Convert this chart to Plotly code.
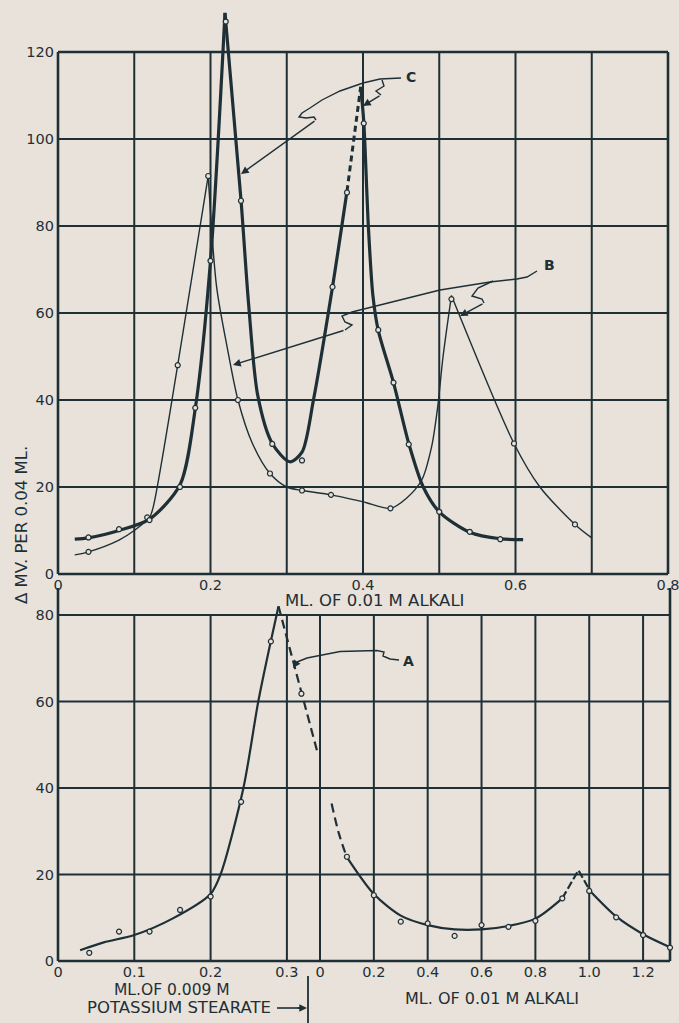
import plotly.graph_objects as go

W, H = 679, 1023
BG = "#e8e2da"
INK = "#1f2f36"
FONT = "DejaVu Sans"

# ---------------- data: upper panel (ML. OF 0.01 M ALKALI) ----------------
# curve C (heavy line): measured points
c_pts_x = [0.04, 0.08, 0.12, 0.16, 0.18, 0.20, 0.22, 0.24, 0.281, 0.32, 0.36, 0.379, 0.401, 0.42, 0.44, 0.46, 0.50, 0.54, 0.58]
c_pts_y = [8.4, 10.3, 12.4, 20.0, 38.2, 72.0, 127.0, 85.8, 29.9, 26.1, 66.0, 87.7, 103.6, 56.1, 44.0, 29.8, 14.3, 9.7, 8.0]
# curve C drawn line
c_rise_x = [0.022, 0.04, 0.08, 0.12, 0.16, 0.18, 0.20, 0.219]
c_rise_y = [8.0, 8.3, 10.0, 12.6, 20.5, 38.0, 72.0, 129.0]
c_valley_x = [0.219, 0.24, 0.25, 0.262, 0.281, 0.304, 0.32, 0.335, 0.36, 0.379]
c_valley_y = [129.0, 86.0, 62.0, 41.0, 30.0, 25.8, 28.0, 40.0, 66.0, 88.0]
c_dash_x = [0.379, 0.397]
c_dash_y = [88.0, 112.0]
c_fall_x = [0.397, 0.401, 0.407, 0.413, 0.42, 0.44, 0.46, 0.479, 0.50, 0.54, 0.58, 0.61]
c_fall_y = [112.0, 104.0, 80.0, 64.0, 56.0, 44.0, 30.0, 20.0, 14.3, 9.6, 8.1, 7.9]

# curve B (light line): measured points
b_pts_x = [0.04, 0.117, 0.157, 0.197, 0.236, 0.278, 0.32, 0.358, 0.436, 0.516, 0.598, 0.678]
b_pts_y = [5.1, 13.0, 48.0, 91.5, 40.0, 23.1, 19.2, 18.2, 15.1, 63.2, 30.0, 11.4]
b_rise_x = [0.022, 0.04, 0.08, 0.10, 0.12, 0.125, 0.157, 0.197]
b_rise_y = [4.4, 5.1, 7.8, 10.0, 13.0, 15.5, 48.0, 91.5]
b_mid_x = [0.197, 0.208, 0.222, 0.236, 0.255, 0.278, 0.30, 0.32, 0.358, 0.40, 0.436, 0.457, 0.477, 0.49, 0.498, 0.505, 0.516]
b_mid_y = [91.5, 66.0, 52.0, 40.0, 30.0, 23.1, 20.0, 19.2, 18.2, 16.6, 15.1, 17.4, 21.6, 29.3, 38.5, 50.0, 64.0]
b_fall_x = [0.516, 0.598, 0.632, 0.678, 0.70]
b_fall_y = [64.0, 30.0, 20.0, 11.4, 8.3]

# ---------------- data: lower panel, curve A ----------------
# ML. OF 0.009 M POTASSIUM STEARATE
a_st_pts_x = [0.041, 0.08, 0.12, 0.16, 0.20, 0.24, 0.279, 0.319]
a_st_pts_y = [1.9, 6.8, 6.8, 11.8, 14.9, 36.8, 73.9, 61.8]
a_st_line_x = [0.029, 0.06, 0.10, 0.15, 0.20, 0.213, 0.243, 0.2625, 0.279, 0.289]
a_st_line_y = [2.5, 4.3, 6.0, 9.8, 15.5, 20.0, 40.0, 60.0, 74.0, 82.0]
a_st_dash_x = [0.289, 0.319, 0.341]
a_st_dash_y = [82.0, 61.8, 47.6]
# ML. OF 0.01 M ALKALI
a_al_pts_x = [0.1, 0.2, 0.3, 0.4, 0.5, 0.6, 0.7, 0.8, 0.9, 1.0, 1.1, 1.2, 1.3]
a_al_pts_y = [24.1, 15.2, 9.1, 8.7, 5.8, 8.3, 7.9, 9.3, 14.5, 16.2, 10.1, 6.0, 3.1]
a_al_dash_x = [0.043, 0.07, 0.099]
a_al_dash_y = [36.4, 29.5, 24.1]
a_al_line_x = [0.099, 0.2, 0.3, 0.4, 0.5, 0.6, 0.7, 0.8, 0.9]
a_al_line_y = [24.1, 15.5, 10.5, 8.3, 7.3, 7.3, 8.1, 9.8, 14.5]
a_al_peak_x = [0.9, 0.96, 1.003]
a_al_peak_y = [14.5, 21.0, 16.2]
a_al_tail_x = [1.003, 1.1, 1.2, 1.3]
a_al_tail_y = [16.2, 10.3, 6.2, 3.2]

# tick labels
top_x_ticks = [0, 0.2, 0.4, 0.6, 0.8]
top_x_text = ["0", "0.2", "0.4", "0.6", "0.8"]
top_y_ticks = [0, 20, 40, 60, 80, 100, 120]
st_ticks = [0, 0.1, 0.2, 0.3]
st_text = ["0", "0.1", "0.2", "0.3"]
al_ticks = [0, 0.2, 0.4, 0.6, 0.8, 1.0, 1.2]
al_text = ["0", "0.2", "0.4", "0.6", "0.8", "1.0", "1.2"]
bot_y_ticks = [0, 20, 40, 60, 80]

# ---------------- layout geometry (pixels of the plate) ----------------
TX0, TX1 = 58, 668      # top x: 0 .. 0.8
TY0 = 574               # top y=0
TPPU = 4.35             # px per unit top y
TY120 = TY0 - 120 * TPPU
BX0, BSEP, BX1 = 58, 320, 670
BY0, BYTOP = 961, 588
BPPU = 4.325
BY80 = BY0 - 80 * BPPU

fig = go.Figure()


def line(xs, ys, xa, ya, width, dash="solid", spline=True):
    fig.add_trace(go.Scatter(
        x=xs, y=ys, xaxis=xa, yaxis=ya, mode="lines",
        line=dict(color=INK, width=width, dash=dash,
                  shape="spline" if spline else "linear", smoothing=0.8),
        hoverinfo="skip", showlegend=False))


def pts(xs, ys, xa, ya):
    fig.add_trace(go.Scatter(
        x=xs, y=ys, xaxis=xa, yaxis=ya, mode="markers",
        marker=dict(symbol="circle", size=5, color=BG,
                    line=dict(color=INK, width=1.2)),
        cliponaxis=False, hoverinfo="skip", showlegend=False))


# curve B (thin)
line(b_rise_x, b_rise_y, "x", "y", 1.4)
line(b_mid_x, b_mid_y, "x", "y", 1.4)
line(b_fall_x, b_fall_y, "x", "y", 1.4)
# curve C (heavy)
line(c_rise_x, c_rise_y, "x", "y", 3.2)
line(c_valley_x, c_valley_y, "x", "y", 3.2)
line(c_dash_x, c_dash_y, "x", "y", 3.0, dash="6px,4px", spline=False)
line(c_fall_x, c_fall_y, "x", "y", 3.2)
pts(b_pts_x, b_pts_y, "x", "y")
pts(c_pts_x, c_pts_y, "x", "y")

# curve A
line(a_st_line_x, a_st_line_y, "x2", "y2", 2.2)
line(a_st_dash_x, a_st_dash_y, "x2", "y2", 2.2, dash="9px,5px", spline=False)
line(a_al_dash_x, a_al_dash_y, "x3", "y2", 2.2, dash="9px,5px")
line(a_al_line_x, a_al_line_y, "x3", "y2", 2.2)
line(a_al_peak_x, a_al_peak_y, "x3", "y2", 2.2, dash="8px,3px", spline=False)
line(a_al_tail_x, a_al_tail_y, "x3", "y2", 2.2)
pts(a_st_pts_x, a_st_pts_y, "x2", "y2")
pts(a_al_pts_x, a_al_pts_y, "x3", "y2")

shapes = []


def seg(x0, y0, x1, y1, xref, yref, w=2.0):
    shapes.append(dict(type="line", x0=x0, y0=y0, x1=x1, y1=y1, xref=xref, yref=yref,
                       line=dict(color=INK, width=w), layer="below"))


def pseg(x0, y0, x1, y1, w=2.6):
    # frame line given in plate pixels (paper coords, never clipped)
    seg(x0 / W, 1 - y0 / H, x1 / W, 1 - y1 / H, "paper", "paper", w)


# top grid & frame
for gx in [0.1, 0.2, 0.3, 0.4, 0.5, 0.6, 0.7]:
    seg(gx, 0, gx, 120, "x", "y", 2.0)
for gy in [20, 40, 60, 80, 100]:
    seg(0, gy, 0.8, gy, "x", "y", 2.0)
pseg(TX0, TY0, TX0, TY120)
pseg(TX1, TY0, TX1, TY120)
pseg(TX0, TY120, TX1, TY120)
pseg(TX0, TY0, TX1, TY0)

# bottom grid & frame
st_top = (BY0 - BYTOP) / BPPU
for gx in [0.1, 0.2, 0.3]:
    seg(gx, 0, gx, 80, "x2", "y2", 2.0)
for gx in [0.2, 0.4, 0.6, 0.8, 1.0, 1.2]:
    seg(gx, 0, gx, 80, "x3", "y2", 2.0)
pseg(BSEP, BY0, BSEP, BY80, 2.0)
for gy in [20, 40, 60, 80]:
    seg(BX0 / W, gy, BX1 / W, gy, "paper", "y2", 2.0)
pseg(BX0, BY0, BX1, BY0)
pseg(BX0, BY0, BX0, BYTOP)
pseg(BX1, BY0, BX1, BYTOP)


def path(points, w=1.4):
    d = "M " + " L ".join(f"{x / W:.5f},{1 - y / H:.5f}" for x, y in points)
    shapes.append(dict(type="path", path=d, xref="paper", yref="paper",
                       line=dict(color=INK, width=w)))


annotations = []


def arrow(tail, tip):
    annotations.append(dict(
        x=tip[0] / W, y=1 - tip[1] / H, xref="paper", yref="paper",
        ax=tail[0] - tip[0], ay=tail[1] - tip[1], axref="pixel", ayref="pixel",
        showarrow=True, arrowhead=2, arrowsize=1.1, arrowwidth=1.4,
        arrowcolor=INK, text=""))


def text(t, x, y, size=16, bold=False, angle=0, xanchor="center"):
    annotations.append(dict(
        text=f"<b>{t}</b>" if bold else t, x=x / W, y=1 - y / H,
        xref="paper", yref="paper", showarrow=False, textangle=angle,
        xanchor=xanchor, yanchor="middle",
        font=dict(family=FONT, size=size, color=INK)))


# leader C
path([(401, 78), (380, 79), (363, 83), (340, 91), (322, 100), (310, 108),
      (302, 113), (299, 117), (306, 118), (314, 117), (316, 120)])
arrow((316, 120), (241, 174))
path([(382, 80), (384, 86), (376, 91), (381, 95)])
arrow((381, 95), (363, 106))
text("C", 411, 77, 14, bold=True)

# leader B
path([(537, 271), (527, 277), (517, 279), (490, 282), (440, 290), (400, 300),
      (352, 312), (342, 316), (345, 322), (352, 325), (345, 330)])
arrow((345, 330), (233, 365))
path([(493, 281), (478, 288), (472, 296), (482, 299), (484, 303)])
arrow((484, 303), (460, 316))
text("B", 549, 265, 14, bold=True)

# leader A
path([(399, 660), (390, 659), (383, 656), (384, 652), (377, 650.5),
      (340, 651.5), (307, 658), (297, 662)])
arrow((297, 662), (293, 668))
text("A", 408, 661, 14, bold=True)

# axis titles
text("ML. OF 0.01 M ALKALI", 374, 600, 16.5)
text("Δ MV. PER 0.04 ML.", 21, 525, 16.5, angle=-90)
text("ML.OF 0.009 M", 172, 990, 15.5)
text("POTASSIUM STEARATE", 273, 1007, 16.5, xanchor="right")
text("ML. OF 0.01 M ALKALI", 492, 998, 16)

# stearate pointer
path([(277, 1008), (300, 1008)], 1.6)
arrow((296, 1008), (307, 1008))
path([(308, 976), (308, 1023)], 1.8)

tickfont = dict(family=FONT, size=14.5, color=INK)
common = dict(showgrid=False, zeroline=False, showline=False, ticks="",
              automargin=False, tickfont=tickfont, fixedrange=True)

fig.update_layout(
    template="none",
    width=W, height=H, autosize=False,
    margin=dict(l=0, r=0, t=0, b=0, pad=0),
    paper_bgcolor=BG, plot_bgcolor="rgba(0,0,0,0)",
    showlegend=False,
    xaxis=dict(domain=[TX0 / W, TX1 / W], range=[0, 0.8], anchor="y",
               tickvals=top_x_ticks, ticktext=top_x_text,
               ticklabeloverflow="allow", **common),
    yaxis=dict(domain=[1 - TY0 / H, 1], range=[0, TY0 / TPPU], anchor="x",
               tickvals=top_y_ticks, ticklabelstandoff=3, **common),
    xaxis2=dict(domain=[BX0 / W, BSEP / W], range=[0, (BSEP - BX0) / 763.0], anchor="y2",
                tickvals=st_ticks, ticktext=st_text, **common),
    xaxis3=dict(domain=[BSEP / W, BX1 / W], range=[0, 1.3], anchor="y2",
                tickvals=al_ticks, ticktext=al_text, **common),
    yaxis2=dict(domain=[1 - BY0 / H, 1 - BYTOP / H], range=[0, st_top], anchor="x2",
                tickvals=bot_y_ticks, ticklabelstandoff=3, **common),
    shapes=shapes,
    annotations=annotations,
)

fig.write_html(
    "out.html",
    config={"displayModeBar": False},
    post_script=("document.body.style.margin='0';"
                 "document.body.style.background='" + BG + "';"
                 "document.body.style.overflow='hidden';"),
)
